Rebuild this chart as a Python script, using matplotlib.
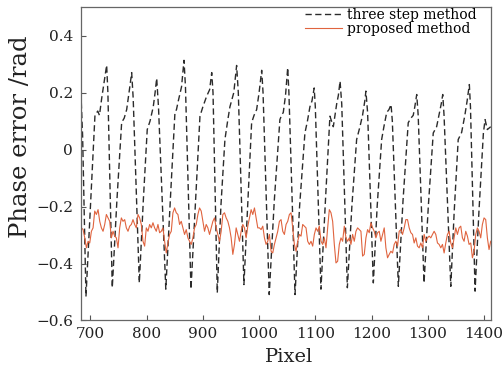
import matplotlib
matplotlib.use("Agg")
import matplotlib.pyplot as plt
import numpy as np

# three step method (black dashed)
three_x = [683, 686, 692, 700, 708, 713, 716, 720, 726, 728.8, 731, 738.8,
           747, 755.5, 760, 764.4, 770, 773.3, 776, 786.9,
           794, 801, 806, 811.7, 815, 817.8, 821, 834,
           842, 850.3, 853, 856.2, 862, 866.4, 869, 878.8,
           887, 894.8, 900, 906.7, 912, 915.7, 918, 925.6,
           932, 939.2, 944, 948.1, 955, 960, 963, 973,
           980, 986.7, 991, 995.6, 1000, 1004.6, 1007, 1018,
           1027, 1037, 1040, 1043, 1047, 1050.9, 1053, 1063.9,
           1072, 1081.5, 1086, 1090.4, 1094, 1098, 1100, 1110,
           1118, 1126, 1132, 1138, 1141, 1144, 1147, 1157,
           1165, 1173.5, 1179.4, 1184, 1188, 1190, 1193, 1203.2,
           1210, 1218, 1222, 1227, 1231, 1234.7, 1237, 1247.7,
           1256, 1265.3, 1270, 1274.2, 1277, 1280.4, 1283, 1293.4,
           1301, 1309.8, 1315.8, 1320, 1324, 1326.7, 1329, 1341,
           1347, 1354.2, 1360.3, 1366, 1370, 1374, 1376, 1384.2,
           1391, 1399, 1402, 1406, 1412]
three_y = [0.20, 0.05, -0.516, -0.20, 0.12, 0.135, 0.12, 0.18, 0.26, 0.296, 0.20, -0.485,
           -0.18, 0.095, 0.11, 0.14, 0.22, 0.27, 0.18, -0.468,
           -0.18, 0.07, 0.10, 0.15, 0.20, 0.25, 0.15, -0.49,
           -0.18, 0.13, 0.14, 0.17, 0.22, 0.313, 0.22, -0.49,
           -0.18, 0.117, 0.15, 0.187, 0.21, 0.27, 0.20, -0.503,
           -0.20, 0.035, 0.10, 0.15, 0.20, 0.295, 0.20, -0.474,
           -0.18, 0.094, 0.12, 0.14, 0.20, 0.278, 0.20, -0.509,
           -0.18, 0.105, 0.12, 0.13, 0.19, 0.287, 0.20, -0.509,
           -0.20, 0.058, 0.10, 0.15, 0.17, 0.216, 0.15, -0.49,
           -0.18, 0.117, 0.08, 0.16, 0.19, 0.24, 0.16, -0.485,
           -0.20, 0.035, 0.08, 0.12, 0.17, 0.205, 0.13, -0.468,
           -0.20, 0.035, 0.08, 0.13, 0.14, 0.158, 0.10, -0.48,
           -0.18, 0.094, 0.11, 0.12, 0.15, 0.193, 0.12, -0.468,
           -0.20, 0.058, 0.08, 0.12, 0.16, 0.193, 0.12, -0.48,
           -0.22, 0.035, 0.06, 0.12, 0.17, 0.228, 0.15, -0.497,
           -0.22, 0.058, 0.105, 0.07, 0.08]

# proposed method (orange), sampled every ~3 pixels from 678 to 1412
proposed_y = [
    -0.275, -0.275, -0.275, -0.281, -0.310, -0.345, -0.322, -0.328, -0.287, -0.275,
    -0.216, -0.228, -0.211, -0.252, -0.275, -0.287, -0.263, -0.228, -0.240, -0.252,
    -0.310, -0.287, -0.304, -0.310, -0.345, -0.275, -0.240, -0.252, -0.246, -0.275,
    -0.287, -0.269, -0.263, -0.246, -0.263, -0.275, -0.228, -0.240, -0.263, -0.322,
    -0.339, -0.275, -0.287, -0.263, -0.275, -0.257, -0.275, -0.287, -0.263, -0.292,
    -0.287, -0.275, -0.322, -0.363, -0.328, -0.298, -0.287, -0.222, -0.205, -0.222,
    -0.228, -0.263, -0.252, -0.275, -0.298, -0.281, -0.310, -0.322, -0.333, -0.310,
    -0.275, -0.263, -0.228, -0.205, -0.216, -0.252, -0.287, -0.263, -0.275, -0.298,
    -0.275, -0.252, -0.240, -0.275, -0.298, -0.322, -0.287, -0.228, -0.222, -0.240,
    -0.252, -0.275, -0.310, -0.368, -0.333, -0.275, -0.298, -0.322, -0.287, -0.263,
    -0.275, -0.310, -0.269, -0.240, -0.211, -0.228, -0.205, -0.240, -0.275, -0.275,
    -0.281, -0.269, -0.310, -0.333, -0.322, -0.298, -0.357, -0.363, -0.333, -0.310,
    -0.287, -0.252, -0.246, -0.287, -0.298,
    -0.263, -0.252, -0.228, -0.222, -0.275, -0.333, -0.357, -0.322, -0.298, -0.304,
    -0.263, -0.269, -0.275, -0.322, -0.333, -0.322, -0.339, -0.298, -0.275, -0.287,
    -0.269, -0.322, -0.333, -0.310, -0.345, -0.275, -0.211, -0.222, -0.252, -0.333,
    -0.398, -0.392, -0.333, -0.310, -0.322, -0.269, -0.310, -0.322, -0.310, -0.333,
    -0.298, -0.322, -0.287, -0.275, -0.281, -0.287, -0.374, -0.368, -0.310, -0.281,
    -0.292, -0.257, -0.275, -0.287, -0.310, -0.292, -0.287, -0.322, -0.298, -0.275,
    -0.345, -0.380, -0.368, -0.357, -0.363, -0.333, -0.322, -0.339, -0.287, -0.281,
    -0.298, -0.275, -0.246, -0.246, -0.275, -0.292, -0.298, -0.328, -0.310, -0.339,
    -0.345, -0.328, -0.345, -0.298, -0.322, -0.310, -0.304, -0.310, -0.298, -0.287,
    -0.298, -0.328, -0.333, -0.345, -0.333, -0.363, -0.328, -0.298, -0.287, -0.328,
    -0.345, -0.310, -0.275, -0.298, -0.275, -0.269, -0.310, -0.322, -0.287, -0.304,
    -0.333, -0.328, -0.380, -0.357, -0.298, -0.275, -0.287, -0.310, -0.263, -0.240,
    -0.246, -0.310, -0.351, -0.322]
proposed_x = np.linspace(678, 1412, len(proposed_y))

xticks = [700, 800, 900, 1000, 1100, 1200, 1300, 1400]
yticks = [0.4, 0.2, 0, -0.2, -0.4, -0.6]
ytick_labels = ["0.4", "0.2", "0", "\u22120.2", "\u22120.4", "\u22120.6"]

plt.rcParams['font.family'] = ['DejaVu Serif']

fig = plt.figure(figsize=(5.03, 3.70), dpi=100)
ax = fig.add_axes([0.1604, 0.1338, 0.8156, 0.8472])

ax.plot(three_x, three_y, color='#2b2b2b', lw=1.0, dashes=(4.5, 2.5),
        label='three step method')
ax.plot(proposed_x, proposed_y, color='#e0643f', lw=0.8, label='proposed method')

ax.set_xlim(682.6, 1412.4)
ax.set_ylim(-0.6, 0.5)
ax.set_xticks(xticks)
ax.set_yticks(yticks)
ax.set_yticklabels(ytick_labels)
ax.tick_params(direction='in', length=3.5, width=0.8, colors='#555555',
               labelcolor='#222222', labelsize=11)
ax.tick_params(axis='x', pad=4.5)
ax.tick_params(axis='y', pad=5.5)
for s in ax.spines.values():
    s.set_color('#666666')
    s.set_linewidth(0.9)

ax.set_xlabel('Pixel', fontsize=14, color='#222222', va='top')
ax.xaxis.set_label_coords(0.508, -0.088)
ax.set_ylabel('Phase error /rad', fontsize=17.5, color='#222222')
ax.yaxis.set_label_coords(-0.118, 0.585)

leg = ax.legend(loc='upper right', bbox_to_anchor=(0.966, 0.996), frameon=False,
                fontsize=10, handlelength=2.7, handletextpad=0.36,
                labelspacing=0.0, borderpad=0, borderaxespad=0)

fig.savefig('out.png', dpi=100)
